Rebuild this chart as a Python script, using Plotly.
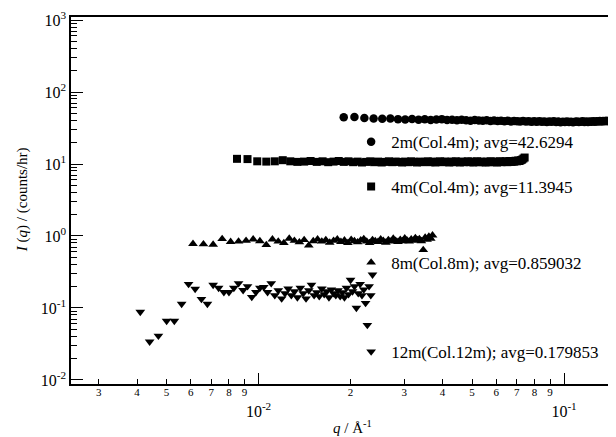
import plotly.graph_objects as go

# ---------------- data ----------------
q_2m = [0.0190, 0.0206, 0.0222, 0.0238, 0.0254, 0.0270, 0.0286, 0.0302, 0.0318, 0.0334,
        0.0350, 0.0366, 0.0382, 0.0398, 0.0414, 0.0430, 0.0446, 0.0462, 0.0478, 0.0494,
        0.0510, 0.0526, 0.0542, 0.0558, 0.0574, 0.0590, 0.0606, 0.0622, 0.0638, 0.0654,
        0.0670, 0.0686, 0.0702, 0.0718, 0.0734, 0.0750, 0.0766, 0.0782, 0.0798, 0.0814,
        0.0830, 0.0846, 0.0862, 0.0878, 0.0894, 0.0910, 0.0926, 0.0942, 0.0958, 0.0974,
        0.0990, 0.1006, 0.1022, 0.1038, 0.1054, 0.1070, 0.1086, 0.1102, 0.1118, 0.1134,
        0.1150, 0.1166, 0.1182, 0.1198, 0.1214, 0.1230, 0.1246, 0.1262, 0.1278, 0.1294,
        0.1310, 0.1326, 0.1342, 0.1358, 0.1374, 0.1390, 0.1406, 0.1422, 0.1438, 0.1454,
        0.1470, 0.1486, 0.1502]
I_2m = [44.5, 45.0, 43.5, 42.8, 42.5, 42.8, 42.0, 41.6, 42.2, 41.3,
        41.8, 40.9, 41.5, 42.0, 40.8, 41.2, 40.5, 41.1, 40.6, 40.0,
        40.8, 40.3, 39.9, 40.5, 39.7, 40.2, 39.5, 40.0, 39.3, 39.8,
        39.0, 39.6, 39.2, 38.8, 39.5, 38.9, 39.3, 38.5, 39.1, 38.7,
        39.4, 38.6, 39.0, 38.3, 38.9, 38.5, 39.2, 38.4, 38.8, 38.1,
        38.7, 38.3, 39.0, 38.2, 38.6, 38.0, 38.5, 38.9, 38.2, 38.6,
        39.1, 38.4, 38.8, 38.3, 39.0, 38.6, 39.3, 38.7, 39.2, 38.9,
        39.5, 39.0, 39.6, 39.2, 39.8, 39.4, 40.0, 39.5, 40.2, 39.7,
        40.4, 40.0, 40.6]

q_4m = [0.0085, 0.0092, 0.0099, 0.0106, 0.0113, 0.0120, 0.0127, 0.0134, 0.0141, 0.0148,
        0.0155, 0.0162, 0.0169, 0.0176, 0.0183, 0.0190, 0.0197, 0.0204, 0.0211, 0.0218,
        0.0225, 0.0232, 0.0239, 0.0246, 0.0253, 0.0260, 0.0267, 0.0274, 0.0281, 0.0288,
        0.0295, 0.0302, 0.0309, 0.0316, 0.0323, 0.0330, 0.0337, 0.0344, 0.0351, 0.0358,
        0.0365, 0.0372, 0.0379, 0.0386, 0.0393, 0.0400, 0.0407, 0.0414, 0.0421, 0.0428,
        0.0435, 0.0442, 0.0449, 0.0456, 0.0463, 0.0470, 0.0477, 0.0484, 0.0491, 0.0498,
        0.0505, 0.0512, 0.0519, 0.0526, 0.0533, 0.0540, 0.0547, 0.0554, 0.0561, 0.0568,
        0.0575, 0.0582, 0.0589, 0.0596, 0.0603, 0.0610, 0.0617, 0.0624, 0.0631, 0.0638,
        0.0645, 0.0652, 0.0659, 0.0666, 0.0673, 0.0680, 0.0687, 0.0694, 0.0701, 0.0708,
        0.0715, 0.0722, 0.0729, 0.0736, 0.0743]
I_4m = [11.8, 11.7, 10.9, 10.8, 10.9, 11.3, 10.9, 10.7, 10.8, 11.0,
        10.7, 10.9, 10.6, 10.8, 11.0, 10.7, 10.9, 10.6, 10.8, 10.5,
        10.7, 10.9, 10.6, 10.8, 10.5, 10.7, 10.9, 10.6, 10.8, 10.7,
        10.5, 10.8, 10.6, 10.9, 10.7, 10.5, 10.8, 10.6, 10.7, 10.9,
        10.6, 10.8, 10.5, 10.7, 10.9, 10.6, 10.8, 10.7, 10.5, 10.8,
        10.6, 10.9, 10.7, 10.5, 10.8, 10.6, 10.7, 10.9, 10.6, 10.8,
        10.5, 10.7, 10.9, 10.6, 10.8, 10.6, 10.7, 10.5, 10.8, 10.6,
        10.9, 10.7, 10.6, 10.8, 10.5, 10.7, 10.9, 10.6, 10.8, 10.7,
        10.9, 10.6, 10.8, 11.0, 10.7, 10.9, 10.8, 11.1, 10.9, 11.2,
        11.0, 11.3, 11.5, 11.9, 12.3]

q_8m = [0.0061, 0.0066, 0.0071, 0.0076, 0.0081, 0.0086, 0.0091, 0.0096, 0.0101, 0.0106,
        0.0111, 0.0116, 0.0121, 0.0126, 0.0131, 0.0136, 0.0141, 0.0146, 0.0151, 0.0156,
        0.0161, 0.0166, 0.0171, 0.0176, 0.0181, 0.0186, 0.0191, 0.0196, 0.0201, 0.0206,
        0.0211, 0.0216, 0.0221, 0.0226, 0.0231, 0.0236, 0.0241, 0.0246, 0.0251, 0.0256,
        0.0261, 0.0266, 0.0271, 0.0276, 0.0281, 0.0286, 0.0291, 0.0296, 0.0301, 0.0306,
        0.0311, 0.0316, 0.0321, 0.0326, 0.0331, 0.0336, 0.0341, 0.0346, 0.0351, 0.0356,
        0.0361, 0.0366, 0.0371]
I_8m = [0.78, 0.77, 0.76, 0.91, 0.83, 0.84, 0.86, 0.90, 0.85, 0.75,
        0.90, 0.84, 0.80, 0.92, 0.86, 0.82, 0.88, 0.74, 0.85, 0.90,
        0.84, 0.88, 0.81, 0.86, 0.90, 0.83, 0.87, 0.80, 0.89, 0.85,
        0.82, 0.87, 0.91, 0.84, 0.80, 0.88, 0.85, 0.83, 0.90, 0.86,
        0.81, 0.88, 0.84, 0.92, 0.86, 0.83, 0.89, 0.85, 0.93, 0.87,
        0.84, 0.90, 0.86, 0.94, 0.88, 0.91, 0.85, 0.64, 0.95, 0.89,
        0.98, 0.92, 1.02]

q_12m = [0.0041, 0.0044, 0.0047, 0.0050, 0.0053, 0.0056, 0.0059, 0.0062, 0.0065, 0.0068,
         0.0071, 0.0074, 0.0077, 0.0080, 0.0083, 0.0086, 0.0089, 0.0092, 0.0095, 0.0098,
         0.0101, 0.0104, 0.0107, 0.0110, 0.0113, 0.0116, 0.0119, 0.0122, 0.0125, 0.0128,
         0.0131, 0.0134, 0.0137, 0.0140, 0.0143, 0.0146, 0.0149, 0.0152, 0.0155, 0.0158,
         0.0161, 0.0164, 0.0167, 0.0170, 0.0173, 0.0176, 0.0179, 0.0182, 0.0185, 0.0188,
         0.0191, 0.0194, 0.0197, 0.0200, 0.0203, 0.0206, 0.0209, 0.0212, 0.0215, 0.0218,
         0.0221, 0.0224, 0.0227, 0.0230, 0.0233, 0.0236]
I_12m = [0.088, 0.034, 0.041, 0.066, 0.066, 0.114, 0.215, 0.184, 0.133, 0.114,
         0.209, 0.190, 0.166, 0.166, 0.190, 0.220, 0.177, 0.200, 0.142, 0.166,
         0.190, 0.195, 0.166, 0.220, 0.150, 0.175, 0.135, 0.160, 0.185, 0.150,
         0.170, 0.140, 0.190, 0.160, 0.135, 0.175, 0.210, 0.150, 0.165, 0.145,
         0.185, 0.155, 0.170, 0.140, 0.180, 0.160, 0.150, 0.175, 0.145, 0.165,
         0.140, 0.190, 0.155, 0.245, 0.170, 0.200, 0.100, 0.160, 0.215, 0.150,
         0.180, 0.117, 0.058, 0.200, 0.150, 0.290]

names = ["2m(Col.4m); avg=42.6294", "4m(Col.4m); avg=11.3945",
         "8m(Col.8m); avg=0.859032", "12m(Col.12m); avg=0.179853"]

y_major = [1e-2, 1e-1, 1e0, 1e1, 1e2, 1e3]
y_major_text = ["10<sup>-2</sup>", "10<sup>-1</sup>", "10<sup>0</sup>",
                "10<sup>1</sup>", "10<sup>2</sup>", "10<sup>3</sup>"]
x_major = [1e-2, 1e-1]
x_major_text = ["10<sup>-2</sup>", "10<sup>-1</sup>"]
x_digit_vals = [3e-3, 4e-3, 5e-3, 6e-3, 7e-3, 8e-3, 9e-3,
                2e-2, 3e-2, 4e-2, 5e-2, 6e-2, 7e-2, 8e-2, 9e-2]
x_digit_text = ["3", "4", "5", "6", "7", "8", "9",
                "2", "3", "4", "5", "6", "7", "8", "9"]

FONT = "Liberation Serif"
BLACK = "black"
XR = [-2.614, -0.83]
YR = [-2.056, 3.042]

fig = go.Figure()
series = [
    (q_2m, I_2m, "circle", 8.5, "legend", "x", "y"),
    (q_4m, I_4m, "square", 8, "legend2", "x", "y"),
    (q_8m, I_8m, "triangle-up", 8.5, "legend3", "x", "y2"),
    (q_12m, I_12m, "triangle-down", 8.5, "legend4", "x2", "y"),
]
for (qx, iy, sym, sz, lg, xa, ya), nm in zip(series, names):
    fig.add_trace(go.Scatter(x=qx, y=iy, mode="markers", name=nm, legend=lg,
                             xaxis=xa, yaxis=ya,
                             marker=dict(symbol=sym, size=sz, color=BLACK,
                                         line=dict(width=0))))

y_minor = [m * 10 ** e for e in range(-2, 3) for m in range(2, 10)]

leg_common = dict(bgcolor="rgba(0,0,0,0)", borderwidth=0, xanchor="left",
                  yanchor="middle", itemsizing="trace",
                  font=dict(family=FONT, size=17, color=BLACK))
lx = 0.514
fig.update_layout(
    width=608, height=429,
    margin=dict(l=63, r=0, t=9, b=53, autoexpand=False),
    plot_bgcolor="white", paper_bgcolor="white",
    font=dict(family=FONT, color=BLACK),
    showlegend=True,
    legend=dict(x=lx, y=0.659, **leg_common),
    legend2=dict(x=lx, y=0.537, **leg_common),
    legend3=dict(x=lx, y=0.330, **leg_common),
    legend4=dict(x=lx, y=0.087, **leg_common),
    xaxis=dict(type="log", range=XR, showline=True, linecolor=BLACK,
               linewidth=1.5, mirror=True, showgrid=False, zeroline=False,
               automargin=False,
               ticks="inside", ticklen=11, tickwidth=1.2, tickcolor=BLACK,
               tickmode="array", tickvals=x_major, ticktext=x_major_text,
               tickfont=dict(family=FONT, size=16, color=BLACK),
               ticklabelstandoff=12),
    xaxis2=dict(type="log", range=XR, overlaying="x", anchor="y",
                side="bottom", showline=False, showgrid=False, zeroline=False,
                automargin=False,
                ticks="inside", ticklen=5, tickwidth=1, tickcolor=BLACK,
                tickmode="array", tickvals=x_digit_vals, ticktext=x_digit_text,
                tickfont=dict(family=FONT, size=11, color=BLACK)),
    yaxis=dict(type="log", range=YR, showline=True, linecolor=BLACK,
               linewidth=1.5, showgrid=False, zeroline=False, automargin=False,
               ticks="inside", ticklen=12, tickwidth=1.2, tickcolor=BLACK,
               tickmode="array", tickvals=y_major, ticktext=y_major_text,
               tickfont=dict(family=FONT, size=16, color=BLACK)),
    yaxis2=dict(type="log", range=YR, overlaying="y", anchor="x", side="left",
                showline=False, showgrid=False, zeroline=False, automargin=False,
                ticks="inside", ticklen=6, tickwidth=1, tickcolor=BLACK,
                tickmode="array", tickvals=y_minor, showticklabels=False),
    annotations=[
        dict(text="<i>q</i> / Å<sup>-1</sup>", xref="paper", yref="paper",
             x=0.517, y=-0.118, xanchor="center", yanchor="middle",
             showarrow=False, font=dict(family=FONT, size=15, color=BLACK)),
        dict(text="<i>I</i> (<i>q</i>) / (counts/hr)", xref="paper", yref="paper",
             x=-0.0899, y=0.501, xanchor="center", yanchor="middle", textangle=-90,
             showarrow=False, font=dict(family=FONT, size=15, color=BLACK)),
    ],
)

fig.write_html("out.html")
